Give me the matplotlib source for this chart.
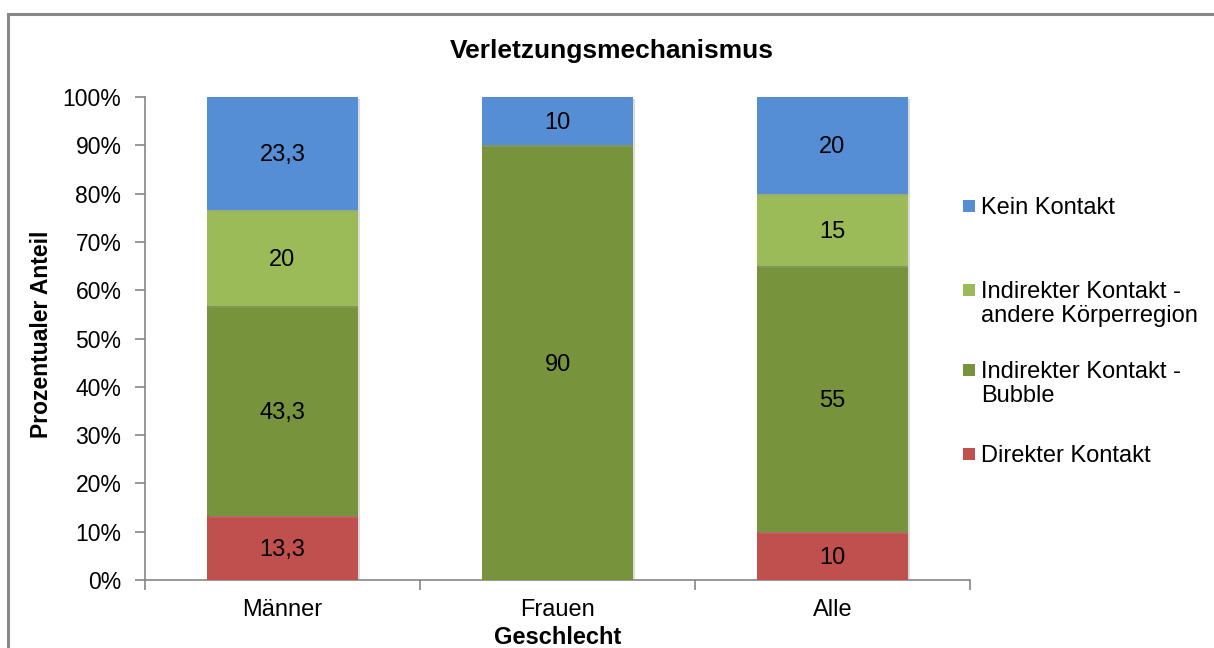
import matplotlib
matplotlib.use("Agg")
import matplotlib.pyplot as plt
import matplotlib.patheffects as pe
from matplotlib.patches import Rectangle
import numpy as np

plt.rcParams['font.family'] = ['Liberation Sans', 'DejaVu Sans']

categories = ["Männer", "Frauen", "Alle"]
series_names = ["Direkter Kontakt",
                "Indirekter Kontakt -\nBubble",
                "Indirekter Kontakt -\nandere Körperregion",
                "Kein Kontakt"]
series_values = {
    "Direkter Kontakt": [13.3, 0, 10],
    "Indirekter Kontakt -\nBubble": [43.3, 90, 55],
    "Indirekter Kontakt -\nandere Körperregion": [20, 0, 15],
    "Kein Kontakt": [23.3, 10, 20],
}
series_colors = ["#C0504D", "#77933C", "#9BBB59", "#558ED5"]
y_ticks = [0, 10, 20, 30, 40, 50, 60, 70, 80, 90, 100]

W, H = 1214, 648
fig = plt.figure(figsize=(W / 100, H / 100), dpi=100)
fig.patch.set_facecolor("white")

# outer chart frame
fig.add_artist(Rectangle((8 / W, -0.05), 1.2, 1 - 14 / H + 0.05,
                         transform=fig.transFigure, fill=False,
                         edgecolor="#898989", linewidth=2.2))

ax = fig.add_axes([145 / W, 1 - 580 / H, (970 - 145) / W, (580 - 97) / H])

vals = np.array([series_values[s] for s in series_names], dtype=float)
totals = vals.sum(axis=0)
shares = vals / totals * 100
x = np.arange(len(categories))
bottom = np.zeros(len(categories))
shadow = [pe.SimplePatchShadow(offset=(1.5, -1.5), shadow_rgbFace="#999999", alpha=0.35),
          pe.Normal()]
for i, name in enumerate(series_names):
    bars = ax.bar(x, shares[i], width=0.55, bottom=bottom,
                  color=series_colors[i], edgecolor="none", zorder=3)
    for b in bars:
        b.set_path_effects(shadow)
    for j, bar in enumerate(bars):
        if vals[i, j] > 0:
            lbl = f"{vals[i, j]:g}".replace(".", ",")
            ax.text(bar.get_x() + bar.get_width() / 2,
                    bottom[j] + shares[i, j] / 2 - 0.4, lbl,
                    ha="center", va="center", fontsize=17, color="black", zorder=4)
    bottom += shares[i]

ax.set_xlim(-0.5, len(categories) - 0.5)
ax.set_ylim(0, 100)
ax.set_yticks(y_ticks)
ax.set_yticklabels([f"{t}%" for t in y_ticks], fontsize=16.5)
ax.set_xticks(np.arange(-0.5, len(categories), 1.0))
ax.set_xticklabels([])
ax.set_xticks(x, minor=True)
ax.set_xticklabels(categories, minor=True, fontsize=17)
ax.tick_params(axis="x", which="minor", length=0, pad=14)
ax.tick_params(axis="x", which="major", length=7, width=1.2, color="#868686", direction="out")
ax.tick_params(axis="y", length=7, width=1.2, color="#868686", direction="out", pad=10)
for side in ["top", "right"]:
    ax.spines[side].set_visible(False)
for side in ["left", "bottom"]:
    ax.spines[side].set_color("#868686")
    ax.spines[side].set_linewidth(1.2)
ax.set_facecolor("none")

fig.text(612 / W, 1 - 51 / H, "Verletzungsmechanismus",
         ha="center", va="center", fontsize=19, fontweight="bold")
fig.text(558 / W, 1 - 637 / H, "Geschlecht",
         ha="center", va="center", fontsize=17, fontweight="bold")
fig.text(42 / W, 1 - 334 / H, "Prozentualer Anteil", rotation=90,
         ha="center", va="center", fontsize=16.5, fontweight="bold")

# legend, top entry first
legend_order = [3, 2, 1, 0]
legend_y = [206, 290, 370, 454]
for k, y in zip(legend_order, legend_y):
    fig.add_artist(Rectangle((963 / W, 1 - (y + 6) / H), 12 / W, 12 / H,
                             transform=fig.transFigure, facecolor=series_colors[k],
                             edgecolor="none"))
    fig.text(981 / W, 1 - (y - 9) / H, series_names[k], ha="left", va="top",
             fontsize=17, linespacing=1.1)

fig.savefig("out.png", dpi=100)
